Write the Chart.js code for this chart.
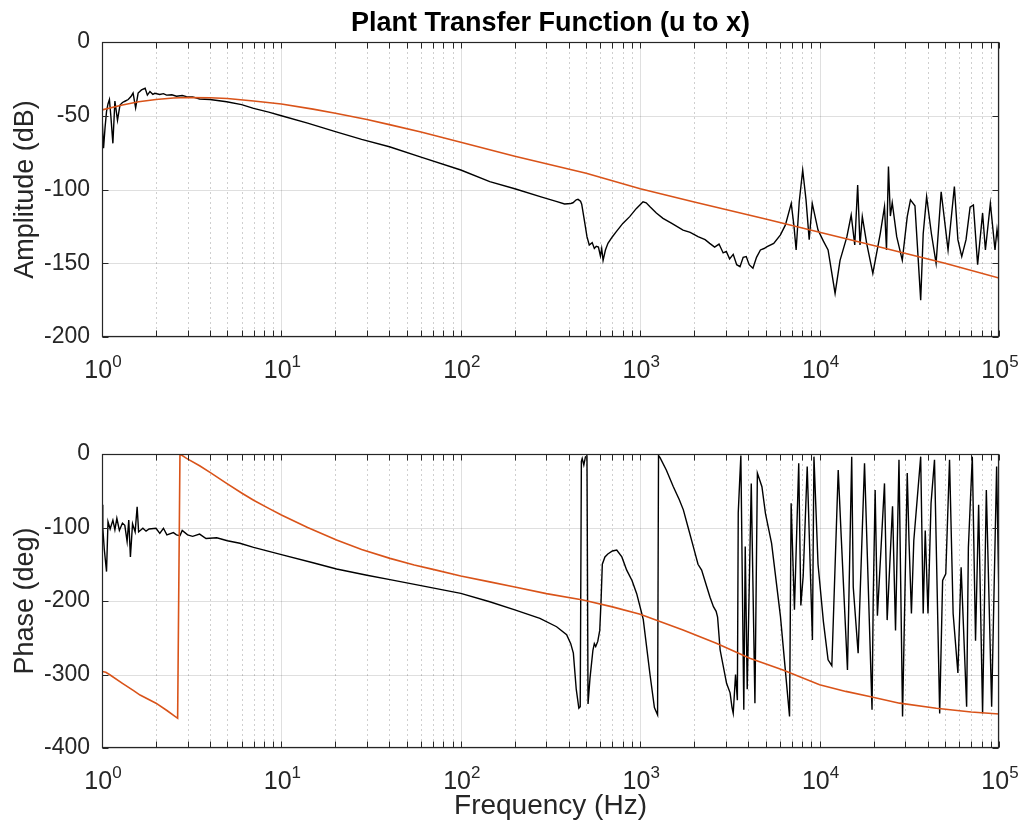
<!DOCTYPE html>
<html>
<head>
<meta charset="utf-8">
<script src="https://cdn.jsdelivr.net/npm/chart.js@4.4.1/dist/chart.umd.min.js"></script>
<style>
  html, body { margin: 0; padding: 0; background: #fff; }
  #wrap { position: relative; width: 1024px; height: 836px; }
  #ampWrap { position: absolute; left: 0; top: 0; }
  #phaseWrap { position: absolute; left: 0; top: 400px; }
</style>
</head>
<body>
<div id="wrap">
  <div id="ampWrap"><canvas id="ampChart" width="1024" height="400"></canvas></div>
  <div id="phaseWrap"><canvas id="phaseChart" width="1024" height="436"></canvas></div>
</div>
<script>
// measured amplitude (black)
const ampFreq = [1, 1.02, 1.04, 1.06, 1.08, 1.1, 1.12, 1.15, 1.18, 1.22, 1.26, 1.3, 1.35, 1.4, 1.45, 1.49,
  1.54, 1.59, 1.66, 1.74, 1.79, 1.85, 1.92, 1.97, 2.1, 2.2, 2.29, 2.45, 2.6, 2.8, 2.96, 3.2, 3.5, 4, 4.95,
  6, 7, 8.5, 10, 14, 20, 28, 40, 60, 100, 145, 200, 280, 340, 379, 410, 422, 440, 450, 465, 472, 490, 505,
  520, 540, 555, 569, 585, 600, 610, 621, 640, 661, 700, 736, 800, 874, 950, 1037, 1080, 1134, 1230, 1340,
  1500, 1733, 1900, 2100, 2300, 2440, 2600, 2750, 2900, 3020, 3150, 3300, 3450, 3600, 3750, 3900, 4050,
  4250, 4450, 4680, 4900, 5100, 5550, 6050, 6450, 6950, 7200, 7400, 7700, 8050, 8400, 8750, 9100, 9800,
  10500, 11150, 12200, 13000, 14200, 15000, 15700, 16300, 16800, 17300, 18300, 19800, 21800, 23000, 23600,
  24200, 24800, 25400, 26900, 28900, 30800, 32100, 34000, 36600, 37800, 39500, 42000, 44600, 47600, 52000,
  56400, 59000, 62000, 65500, 69000, 72000, 76000, 81000, 84000, 89500, 95000, 97500, 100000];
const ampMeasured = [-50, -72, -58, -47, -42, -39, -50, -68.7, -40, -53, -42.7, -41, -40, -39, -37, -34.6,
  -44.7, -34.6, -32.5, -31.4, -36, -33.6, -35.5, -34.8, -35.6, -35, -36, -35.8, -36.8, -36.3, -37, -37.2, -38.6, -39, -40.5,
  -42.5, -45, -47.5, -50, -55, -60.8, -66, -71, -78, -86.8, -94.7, -99.5, -105, -108, -109.8, -109.5, -109, -107, -106.7, -108, -110, -122, -132,
  -137.6, -136, -140, -138.5, -139, -145, -140, -148, -141, -136.5, -132, -128.6, -123, -118.4, -113, -108.3, -109, -111.7, -116, -119.6,
  -123, -127.5, -129, -132, -134, -136.5, -139, -137, -143, -142, -147, -144, -151, -152.3, -146, -145.5, -151,
  -153.4, -146, -141, -140, -138.8, -136.5, -130.8, -124, -109.4, -125, -141, -108.3, -86.8, -107, -134, -109.4, -127.5,
  -135, -141, -170.4, -148, -132, -117.3, -137.6, -97, -137.6, -118.4, -136.5, -156.8, -129.7, -111.7, -141,
  -84.5, -118, -109, -132, -148, -118.4, -107, -111, -175, -130, -104.8, -130, -150, -101.5, -141,
  -98, -134, -145.5, -134, -112, -110.5, -151, -116, -141, -109.4, -141, -127, -138];

// model amplitude (orange)
const ampModelFreq = [1, 1.3, 1.6, 2, 2.5, 3, 4, 5, 7, 10, 15, 20, 30, 40, 60, 100, 200, 500, 1000, 2000,
  5000, 10000, 20000, 50000, 100000];
const ampModel = [-46, -42.7, -40.5, -39, -38, -37.6, -37.8, -38.3, -40, -42, -45.5, -48.3, -52.5, -56, -61,
  -68, -77.5, -89, -99.5, -108.5, -120, -129, -138, -150, -160];

// measured phase (black)
const phaseFreq = [1, 1.01, 1.03, 1.06, 1.08, 1.11, 1.15, 1.18, 1.21, 1.25, 1.3, 1.34, 1.38, 1.41, 1.44, 1.48,
  1.53, 1.57, 1.6, 1.69, 1.76, 1.83, 2.0, 2.1, 2.2, 2.3, 2.5, 2.6, 2.72, 2.8, 3.0, 3.2, 3.5, 3.8, 4.36, 5.0,
  5.87, 7, 10, 15, 20.3, 30, 40.3, 60, 100, 145, 200, 276, 342, 389, 410, 424, 440, 455, 463, 470, 475, 485, 495, 505,
  512, 525, 545, 555, 565, 580, 595, 605, 615, 636, 660, 700, 740, 790, 841, 900, 956, 1040, 1134, 1200,
  1250, 1265, 1290, 1400, 1530, 1650, 1740, 1850, 1977, 2100, 2200, 2350, 2450, 2560, 2650, 2700, 2790, 3030, 3170, 3250, 3300, 3400, 3480,
  3520, 3580, 3640, 3780, 3850, 3950, 4160, 4360, 4500, 4770, 4990, 5400, 6050, 6800, 6940, 7240, 7650,
  7860, 8100, 8530, 9120, 9300, 9800, 10500, 11150, 11700, 12700, 13200, 14300, 15100, 15400, 16400, 17800,
  19600, 19900, 20400, 21000, 23000, 23800, 25500, 26500, 27700, 29000, 30800, 31500, 32500, 33500, 36600,
  37800, 38800, 40200, 41800, 43700, 46700, 48500, 50500, 53000, 55500, 59000, 61500, 66000, 67500, 71000,
  74000, 77000, 81000, 85000, 91000, 97000, 100000];
const phaseMeasured = [-69, -100, -130, -160, -92, -102, -90, -103, -87.5, -104, -94, -97, -119, -90, -140, -95,
  -106, -71.7, -106, -101, -105, -102, -101, -108, -101, -110, -107, -110, -111, -104, -110, -112, -109, -115, -114, -118,
  -121.5, -127, -137, -148, -156.5, -165, -171, -179, -189.6, -201, -212, -223.6, -235, -246, -258, -271, -320, -346, -344, -10, -6, -15, -4, -3,
  -340, -305, -267, -258, -262, -255, -240, -200, -150, -140, -136, -132, -130.6, -140, -158, -172, -190, -225, -300, -345,
  -355, -2, -5, -22, -44.5, -62, -76, -100, -126, -150, -158, -180.5, -195, -207.7, -214, -222, -266.7, -312, -325, -345, -352.8, -300, -335,
  -80, -40, -2, -348, -126, -320, -40, -339, -26, -44.5, -80.7, -121.5, -221, -357, -67, -212, -12.7,
  -206, -166, -17, -253, -3.6, -150, -228, -280, -288, -21.8, -113, -294, -3.6, -181, -271, -12.7,
  -348, -199, -49, -220, -40, -226, -71, -240, -8, -357, -26, -118, -217, -118, -3.6,
  -217, -104, -217, -67, -8, -353, -172, -163, -8, -217, -298, -154, -344, -127, -3.6,
  -254, -69, -353, -49, -344, -17, -200];

// model phase (orange)
const phaseModelFreq = [1, 1.05, 1.1, 1.3, 1.5, 1.63, 2, 2.3, 2.64, 2.72, 2.96, 3.5, 4, 4.95, 6, 7, 8.5, 10, 14,
  20.3, 28, 40.3, 55, 70, 100, 145, 200, 300, 480, 700, 1000, 1733, 2655, 4080, 6250, 10000, 14000, 19000,
  27900, 44700, 70000, 100000];
const phaseModel = [-296, -297, -300, -312, -322, -328, -339, -349, -359.6, 0, -5.9, -16, -25, -40, -53, -63,
  -74, -83, -100, -117, -130, -142, -151, -157, -166, -174, -181, -190, -198.6, -208, -218, -239.5, -257.6,
  -278, -294, -314, -323, -330, -339, -346, -351, -353.7];

// axis ticks
const xDecades = [1, 10, 100, 1000, 10000, 100000];
const xDecadeExp = ["0", "1", "2", "3", "4", "5"];
const xMantissas = [1, 2, 3, 4, 5, 6, 7, 8, 9];
const ampTicks = [0, -50, -100, -150, -200];
const phaseTicks = [0, -100, -200, -300, -400];

const xGridTicks = [];
xDecades.forEach((d) => {
  xMantissas.forEach((m) => {
    if (d * m <= 100000) xGridTicks.push(d * m);
  });
});

const FONT = "'Liberation Sans', Arial, Helvetica, sans-serif";
const AXIS_COLOR = "#262626";

function zip(xs, ys) {
  return xs.map((x, i) => ({ x: x, y: ys[i] }));
}

// MATLAB look: grid, box, inward ticks, 10^n labels, title
const matlabAxes = {
  id: "matlabAxes",
  beforeDatasetsDraw(chart, args, opts) {
    const { ctx, chartArea: a } = chart;
    const xs = chart.scales.x;
    const ys = chart.scales.y;
    ctx.save();
    ctx.lineWidth = 1;
    ctx.strokeStyle = "rgba(38,38,38,0.22)";
    ctx.setLineDash([2, 3]);
    xGridTicks.forEach((v) => {
      if (xDecades.includes(v)) return;
      const px = Math.round(xs.getPixelForValue(v)) + 0.5;
      ctx.beginPath();
      ctx.moveTo(px, a.top);
      ctx.lineTo(px, a.bottom);
      ctx.stroke();
    });
    ctx.setLineDash([]);
    ctx.strokeStyle = "rgba(38,38,38,0.15)";
    xDecades.forEach((v) => {
      const px = Math.round(xs.getPixelForValue(v)) + 0.5;
      ctx.beginPath();
      ctx.moveTo(px, a.top);
      ctx.lineTo(px, a.bottom);
      ctx.stroke();
    });
    opts.yTicks.forEach((v) => {
      const py = Math.round(ys.getPixelForValue(v)) + 0.5;
      ctx.beginPath();
      ctx.moveTo(a.left, py);
      ctx.lineTo(a.right, py);
      ctx.stroke();
    });
    ctx.restore();
  },
  afterDatasetsDraw(chart, args, opts) {
    const { ctx, chartArea: a } = chart;
    const xs = chart.scales.x;
    const ys = chart.scales.y;
    const L = Math.round(a.left) + 0.5;
    const R = Math.round(a.right) - 0.5;
    const T = Math.round(a.top) + 0.5;
    const B = Math.round(a.bottom) - 0.5;
    ctx.save();
    ctx.strokeStyle = AXIS_COLOR;
    ctx.lineWidth = 1;
    ctx.beginPath();
    xGridTicks.forEach((v) => {
      const px = Math.round(xs.getPixelForValue(v)) + 0.5;
      ctx.moveTo(px, B);
      ctx.lineTo(px, B - 6);
      ctx.moveTo(px, T);
      ctx.lineTo(px, T + 6);
    });
    opts.yTicks.forEach((v) => {
      const py = Math.round(ys.getPixelForValue(v)) + 0.5;
      ctx.moveTo(L, py);
      ctx.lineTo(L + 6, py);
      ctx.moveTo(R, py);
      ctx.lineTo(R - 6, py);
    });
    ctx.stroke();
    ctx.lineWidth = 1.2;
    ctx.strokeRect(L, T, R - L, B - T);

    ctx.fillStyle = AXIS_COLOR;
    ctx.textAlign = "left";
    ctx.textBaseline = "alphabetic";
    xDecades.forEach((d, i) => {
      const px = xs.getPixelForValue(d);
      ctx.font = "25px " + FONT;
      const wb = ctx.measureText("10").width;
      ctx.font = "17px " + FONT;
      const we = ctx.measureText(xDecadeExp[i]).width;
      const x0 = px - (wb + we) / 2 + 1;
      const base = a.bottom + 41;
      ctx.font = "25px " + FONT;
      ctx.fillText("10", x0, base);
      ctx.font = "17px " + FONT;
      ctx.fillText(xDecadeExp[i], x0 + wb, base - 11);
    });

    if (opts.title) {
      ctx.font = "bold 27px " + FONT;
      ctx.textAlign = "center";
      ctx.fillStyle = "#000";
      ctx.fillText(opts.title, (a.left + a.right) / 2, 31);
    }
    ctx.restore();
  }
};

function makeChart(canvasId, cfg) {
  return new Chart(document.getElementById(canvasId), {
    type: "line",
    data: {
      datasets: [
        {
          label: "Model",
          data: zip(cfg.modelFreq, cfg.model),
          borderColor: "#D95319",
          borderWidth: 1.6,
          pointRadius: 0,
          tension: 0,
          order: 0,
        },
        {
          label: "Measured",
          data: zip(cfg.freq, cfg.measured),
          borderColor: "#000000",
          borderWidth: 1.4,
          pointRadius: 0,
          tension: 0,
          order: 1,
        },
      ],
    },
    options: {
      responsive: false,
      animation: false,
      devicePixelRatio: 1,
      layout: { padding: { top: cfg.padTop, right: 25, left: 0, bottom: 0 } },
      plugins: {
        legend: { display: false },
        tooltip: { enabled: false },
        matlabAxes: { yTicks: cfg.yTicks, title: cfg.title },
      },
      scales: {
        x: {
          type: "logarithmic",
          min: 1,
          max: 100000,
          grid: { display: false, drawTicks: false },
          border: { display: false },
          ticks: { display: false },
          title: {
            display: !!cfg.xTitle,
            text: cfg.xTitle || "",
            color: AXIS_COLOR,
            font: { family: FONT, size: 28 },
            padding: { top: 0, bottom: 13 },
          },
          afterFit: (s) => {
            s.height = cfg.xHeight;
          },
        },
        y: {
          min: cfg.yTicks[cfg.yTicks.length - 1],
          max: cfg.yTicks[0],
          afterBuildTicks: (s) => {
            s.ticks = cfg.yTicks.map((v) => ({ value: v }));
          },
          grid: { display: false, drawTicks: false },
          border: { display: false },
          ticks: {
            color: AXIS_COLOR,
            font: { family: FONT, size: 23 },
            padding: 12,
          },
          title: {
            display: true,
            text: cfg.yTitle,
            color: AXIS_COLOR,
            font: { family: FONT, size: 27 },
            padding: { top: 9, bottom: 0 },
          },
          afterFit: (s) => {
            s.width = 102;
          },
        },
      },
    },
    plugins: [matlabAxes],
  });
}

makeChart("ampChart", {
  freq: ampFreq,
  measured: ampMeasured,
  modelFreq: ampModelFreq,
  model: ampModel,
  yTicks: ampTicks,
  yTitle: "Amplitude (dB)",
  title: "Plant Transfer Function (u to x)",
  padTop: 42,
  xHeight: 63,
});

makeChart("phaseChart", {
  freq: phaseFreq,
  measured: phaseMeasured,
  modelFreq: phaseModelFreq,
  model: phaseModel,
  yTicks: phaseTicks,
  yTitle: "Phase (deg)",
  xTitle: "Frequency (Hz)",
  padTop: 54,
  xHeight: 88,
});
</script>
</body>
</html>
